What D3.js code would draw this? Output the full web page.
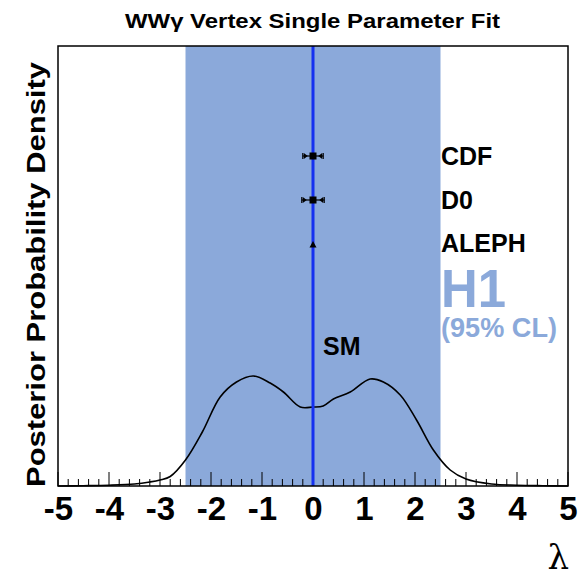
<!DOCTYPE html>
<html><head><meta charset="utf-8">
<script src="https://cdn.jsdelivr.net/npm/d3@7"></script>
<style>body{margin:0;background:#fff}svg{display:block}text{font-family:"Liberation Sans",Arial,sans-serif;font-weight:bold}</style>
</head><body><svg id="c" width="579" height="576"></svg>
<script>
// ---- data ----
const lambdaPts = [-5,-4.5,-4,-3.5,-3.2,-3.0,-2.8,-2.5,-2.17,-1.82,-1.5,-1.17,-0.84,-0.58,-0.25,0,0.2,0.4,0.73,1.12,1.38,1.71,2.03,2.36,2.69,3.0,3.5,4,4.5,5];
const density   = [0,0.3,0.8,2,4,6,9.5,26,54,89,104,110,103,94,79,79,80,87,94,107,104,91,66,36,16,7,2,0.8,0.3,0];
const clBand = [-2.5, 2.5];
const smValue = 0;
const expNames = ["CDF","D0","ALEPH"];
const expCentral = [0,0,0];
const expErr = [0.2,0.22,0];
const expYpos = [330,286,241];
const xTicks = [-5,-4,-3,-2,-1,0,1,2,3,4,5];
const titleText = "WWγ Vertex Single Parameter Fit";
const yTitle = "Posterior Probability Density";

const svg = d3.select("#c");
const L=58,R=568,T=46,B=486;
const x = d3.scaleLinear().domain([-5,5]).range([L,R]);
const y = d3.scaleLinear().domain([0,440]).range([B,T]);
const bandCol = "#8BA9DA";

// band
svg.append("rect").attr("x",x(clBand[0])).attr("y",T).attr("width",x(clBand[1])-x(clBand[0])).attr("height",B-T).attr("fill",bandCol);

// curve
const line = d3.line().x((d,i)=>x(lambdaPts[i])).y(d=>y(d)).curve(d3.curveCatmullRom.alpha(0.5));
svg.append("path").attr("d",line(density)).attr("fill","none").attr("stroke","#000").attr("stroke-width",1.6);

// ticks
const minor = d3.range(-5,5.0001,0.2).map(v=>+v.toFixed(2));
svg.append("g").selectAll("line").data(minor).join("line")
  .attr("x1",d=>x(d)).attr("x2",d=>x(d)).attr("y1",B)
  .attr("y2",d=>Math.abs(d-Math.round(d))<1e-6?B-14:B-7)
  .attr("stroke","#000").attr("stroke-width",1);

// SM line
svg.append("line").attr("x1",x(smValue)).attr("x2",x(smValue)).attr("y1",T).attr("y2",B).attr("stroke","#1530F0").attr("stroke-width",3);

// frame
svg.append("rect").attr("x",L).attr("y",T).attr("width",R-L).attr("height",B-T).attr("fill","none").attr("stroke","#000").attr("stroke-width",1.5);

// axis labels
const ax = d3.axisBottom(x).tickValues(xTicks).tickSize(0).tickPadding(0).tickFormat(d3.format("d"));
const gAx = svg.append("g").attr("transform",`translate(0,${B})`).call(ax);
gAx.select(".domain").remove();
gAx.selectAll("text").attr("font-size",33).attr("font-family","Liberation Sans, Arial, sans-serif").attr("font-weight","bold").attr("fill","#000").attr("dy",null).attr("y",34).text(d=>d<0?"-"+Math.abs(d):d);

// experiment markers
expNames.forEach((n,i)=>{
  const cy=y(expYpos[i]), cx=x(expCentral[i]);
  if(expErr[i]>0){
    const x0=x(expCentral[i]-expErr[i]), x1=x(expCentral[i]+expErr[i]);
    svg.append("line").attr("x1",x0).attr("x2",x1).attr("y1",cy).attr("y2",cy).attr("stroke","#000").attr("stroke-width",1.2);
    [[x0,1],[x1,-1]].forEach(([xe,s])=>{
      svg.append("line").attr("x1",xe).attr("x2",xe).attr("y1",cy-3).attr("y2",cy+3).attr("stroke","#000").attr("stroke-width",1.2);
      svg.append("path").attr("d",`M${xe+s*1},${cy-3}L${xe+s*5},${cy}L${xe+s*1},${cy+3}Z`).attr("fill","#000");
    });
    svg.append("rect").attr("x",cx-3.5).attr("y",cy-3.5).attr("width",7).attr("height",7).attr("fill","#000");
  } else {
    svg.append("path").attr("d",`M${cx},${cy-4}L${cx+3.5},${cy+2.5}L${cx-3.5},${cy+2.5}Z`).attr("fill","#000");
  }
  svg.append("text").attr("x",441).attr("y",[165,209,252][i]).attr("font-size",25).attr("fill","#000").text(n);
});

svg.append("text").attr("x",441).attr("y",307).attr("font-size",54).attr("fill",bandCol).attr("textLength",65).attr("lengthAdjust","spacingAndGlyphs").text("H1");
svg.append("text").attr("x",441).attr("y",337).attr("font-size",27).attr("fill",bandCol).attr("textLength",116).attr("lengthAdjust","spacingAndGlyphs").text("(95% CL)");
svg.append("text").attr("x",323).attr("y",355).attr("font-size",25).attr("fill","#000").text("SM");

// titles
svg.append("text").attr("x",125).attr("y",28).attr("font-size",21).attr("textLength",375).attr("lengthAdjust","spacingAndGlyphs").attr("fill","#000").text(titleText);
svg.append("text").attr("transform","translate(45,487) rotate(-90)").attr("font-size",25).attr("textLength",425).attr("lengthAdjust","spacingAndGlyphs").attr("fill","#000").text(yTitle);
svg.append("text").attr("x",569).attr("y",569).attr("text-anchor","end").attr("font-size",34).style("font-weight","normal").style("font-family","'DejaVu Serif','Liberation Serif',serif").attr("fill","#000").text("λ");
</script></body></html>
